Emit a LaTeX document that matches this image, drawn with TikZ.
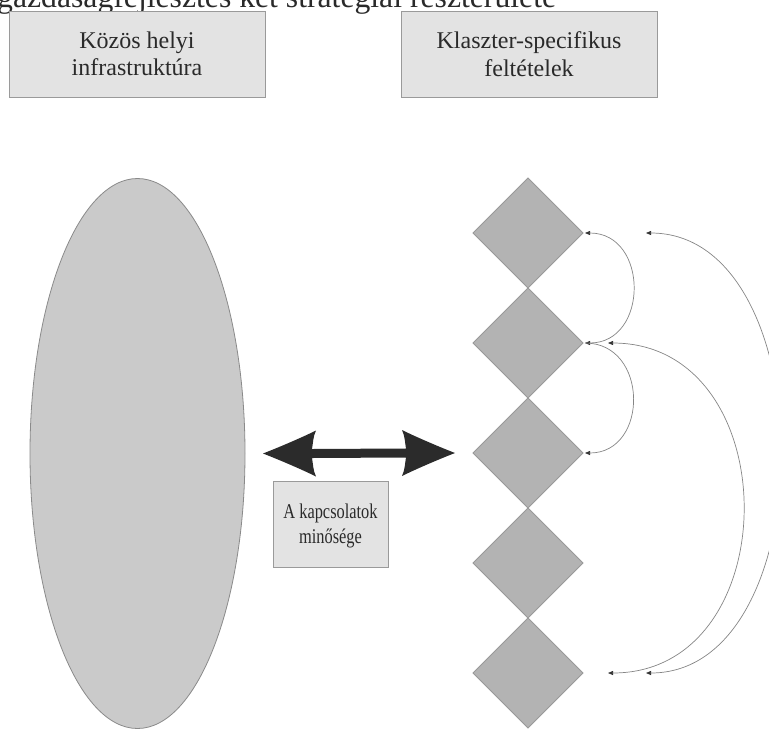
\documentclass[tikz,border=0pt]{standalone}
\usepackage{fontspec}
\setmainfont{Liberation Serif}
\newfontfamily\narrowserif[FakeStretch=0.78]{Liberation Serif}
\usetikzlibrary{shapes.geometric,arrows.meta,calc}

\definecolor{boxfill}{HTML}{E3E3E3}
\definecolor{boxline}{HTML}{9A9A9A}
\definecolor{ovalfill}{HTML}{CACACA}
\definecolor{ovalline}{HTML}{8A8A8A}
\definecolor{diamfill}{HTML}{B3B3B3}
\definecolor{diamline}{HTML}{999999}
\definecolor{arrowdark}{HTML}{2B2B2B}
\definecolor{linkgray}{HTML}{858585}
\definecolor{tipdark}{HTML}{333333}
\definecolor{textgray}{HTML}{2A2A2A}

\begin{document}
\begin{tikzpicture}[x=1pt,y=-1pt,
  labelbox/.style={draw=boxline, fill=boxfill, line width=0.9pt,
    inner sep=0pt, align=center, text=textgray},
  headbox/.style={labelbox, minimum width=256pt, minimum height=86pt,
    font=\fontsize{24}{27.5}\selectfont},
  cell/.style={shape=diamond, draw=diamline, fill=diamfill, line width=0.8pt,
    minimum width=110pt, minimum height=110pt, inner sep=0pt, outer sep=0pt},
  link/.style={draw=linkgray, line width=0.7pt},
  tip/.tip={Triangle[length=5pt,width=4pt,color=tipdark]}
]
\useasboundingbox (0,0) rectangle (769,729);

% heading line (runs past the page edges)
\node[anchor=base west, inner sep=0pt, text=textgray,
      font=\fontsize{31.7}{31.7}\selectfont] (title) at (-3,7)
  {gazdaságfejlesztés két stratégiai részterülete};

% the two headings
\node[headbox] (infra) at (137,54) {Közös helyi\\infrastruktúra};
\node[headbox] (klaszter) at (529,54) {Klaszter-specifikus\\feltételek};

% shared infrastructure
\node[shape=ellipse, draw=ovalline, fill=ovalfill, line width=0.8pt,
      minimum width=215pt, minimum height=550pt, inner sep=0pt, outer sep=0pt]
  (ell) at (137.5,453.5) {};

% cluster chain
\foreach \i in {1,...,5}
  \node[cell] (d\i) at (528,{233+110*(\i-1)}) {};

% two-way link between the two sides
\coordinate (aL) at ([xshift=18pt]ell.east);
\coordinate (aR) at ([xshift=-18pt]d3.west);
\fill[arrowdark] (aL)
  .. controls +(18,-7) and +(-12,6) .. ($(aL)+(53,-23)$)
  .. controls +(-3,6) and +(1,-5) .. ($(aL)+(49,-4.5)$)
  -- ($(aR)+(-49,-4.5)$)
  .. controls +(-1,-5) and +(3,6) .. ($(aR)+(-53,-23)$)
  .. controls +(12,6) and +(-18,-7) .. (aR)
  .. controls +(-18,7) and +(12,-6) .. ($(aR)+(-53,23)$)
  .. controls +(3,-6) and +(-1,5) .. ($(aR)+(-49,4.5)$)
  -- ($(aL)+(49,4.5)$)
  .. controls +(1,5) and +(-3,-6) .. ($(aL)+(53,23)$)
  .. controls +(-12,-6) and +(18,7) .. (aL) -- cycle;

\node[labelbox, minimum width=115pt, minimum height=86pt] (minoseg) at (330.5,524) {};
\node[align=center, inner sep=0pt, text=textgray,
      font=\narrowserif\fontsize{21}{25}\selectfont] at ([yshift=-2pt]minoseg.center)
  {A kapcsolatok\\minősége};

% links along the chain
\draw[link, tip-tip] ([xshift=2pt]d2.east)
  .. controls +(64,0) and +(64,0) .. ([xshift=2pt]d1.east);
\draw[link, -tip] ([xshift=2pt]d2.east)
  .. controls +(64,0) and +(64,0) .. ([xshift=2pt]d3.east);
\draw[link, tip-tip] ([xshift=25pt]d2.east)
  .. controls +(180,0) and +(180,0) .. ([xshift=25pt]d5.east);
\draw[link, tip-tip] ([xshift=63pt]d1.east)
  .. controls +(179,0) and +(179,0) .. ([xshift=63pt]d5.east);
\end{tikzpicture}
\end{document}
